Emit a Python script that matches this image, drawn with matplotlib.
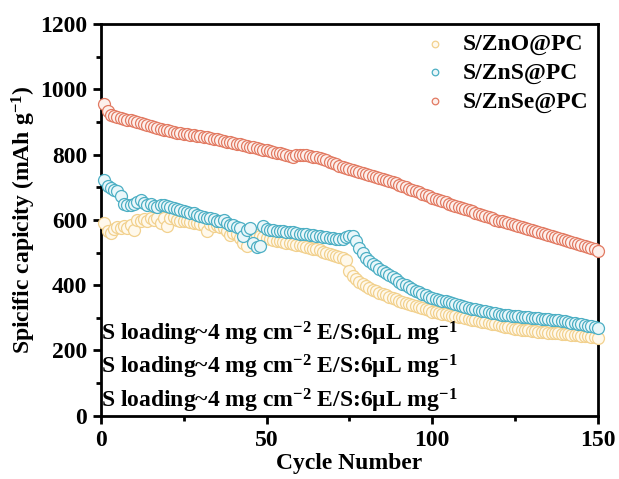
import matplotlib
matplotlib.use("Agg")
import matplotlib.pyplot as plt
from matplotlib.ticker import MultipleLocator

plt.rcParams['font.family'] = ['Liberation Serif', 'DejaVu Serif']
plt.rcParams['font.weight'] = 'bold'
plt.rcParams['mathtext.fontset'] = 'custom'
plt.rcParams['mathtext.rm'] = 'Liberation Serif:bold'
plt.rcParams['mathtext.bf'] = 'Liberation Serif:bold'
plt.rcParams['mathtext.it'] = 'Liberation Serif:bold:italic'
plt.rcParams['mathtext.default'] = 'bf'

cycles = list(range(1, 151))

zno = [590, 565, 560, 572, 578, 575, 580, 575, 585, 570,
       600, 595, 602, 598, 606, 600, 605, 590, 606, 580,
       605, 610, 600, 595, 598, 595, 592, 590, 590, 588,
       585, 565, 586, 580, 584, 578, 575, 565, 555, 560,
       558, 545, 530, 520, 550, 545, 555, 552, 548, 545,
       540, 538, 536, 534, 532, 530, 528, 526, 524, 522,
       519, 517, 514, 512, 510, 508, 502, 498, 495, 492,
       488, 485, 482, 478, 442, 428, 420, 411, 404, 397,
       391, 386, 381, 377, 373, 369, 365, 361, 357, 353,
       349, 345, 341, 338, 335, 332, 329, 326, 323, 319,
       317, 315, 313, 311, 309, 307, 305, 303, 301, 298,
       296, 294, 292, 290, 288, 286, 284, 282, 280, 277,
       275, 273, 271, 269, 267, 265, 264, 263, 262, 260,
       259, 258, 257, 256, 255, 254, 253, 252, 251, 250,
       249, 248, 247, 246, 245, 244, 243, 241, 240, 238]

zns = [723, 703, 697, 692, 688, 672, 650, 645, 647, 650,
       655, 662, 652, 645, 648, 642, 640, 645, 647, 643,
       640, 637, 634, 631, 628, 625, 622, 620, 616, 612,
       608, 606, 605, 602, 598, 595, 600, 590, 585, 585,
       578, 575, 550, 570, 575, 530, 517, 520, 580, 572,
       570, 568, 566, 565, 565, 563, 562, 562, 560, 558,
       556, 556, 555, 553, 552, 550, 549, 547, 545, 543,
       541, 540, 542, 546, 550, 552, 535, 514, 498, 484,
       475, 466, 458, 450, 443, 437, 430, 424, 418, 411,
       405, 399, 393, 388, 383, 378, 373, 369, 365, 361,
       358, 355, 352, 350, 347, 344, 341, 338, 335, 332,
       330, 328, 326, 324, 322, 320, 318, 316, 314, 312,
       310, 309, 308, 307, 306, 305, 304, 303, 302, 300,
       299, 298, 297, 296, 295, 294, 293, 292, 291, 289,
       287, 285, 284, 282, 280, 278, 276, 274, 272, 268]

znse = [955, 932, 922, 918, 915, 912, 910, 907, 905, 903,
        900, 897, 894, 891, 888, 885, 882, 879, 876, 874,
        871, 869, 867, 865, 864, 862, 861, 859, 858, 856,
        855, 853, 851, 849, 847, 844, 842, 839, 837, 835,
        833, 831, 829, 827, 824, 822, 820, 817, 815, 813,
        810, 808, 806, 804, 801, 798, 795, 792, 798, 800,
        799, 798, 796, 794, 791, 788, 785, 782, 778, 774,
        770, 766, 762, 759, 756, 753, 750, 747, 744, 741,
        738, 735, 732, 729, 726, 723, 720, 716, 712, 708,
        704, 700, 696, 692, 688, 684, 680, 676, 672, 668,
        664, 660, 657, 654, 650, 647, 643, 640, 636, 633,
        629, 626, 622, 619, 615, 612, 608, 605, 601, 598,
        595, 592, 589, 586, 583, 580, 577, 574, 571, 568,
        565, 562, 559, 556, 553, 550, 547, 544, 541, 538,
        535, 532, 529, 526, 523, 520, 517, 514, 511, 506]

labels = ['S/ZnO@PC', 'S/ZnS@PC', 'S/ZnSe@PC']
edge_colors = ['#F2D18E', '#4DAFC4', '#E27A62']
face_colors = ['#FFF9EC', '#EAF7FA', '#FDF0EC']

note = 'S loading~4 mg cm$^{-2}$ E/S:6μL mg$^{-1}$'
note_y = [0.193, 0.108, 0.022]

fig = plt.figure(figsize=(6.19, 4.79), dpi=100)
ax = fig.add_axes([0.163, 0.132, 0.803, 0.818])

for data, lab, ec, fc in zip([zno, zns, znse], labels, edge_colors, face_colors):
    ax.scatter(cycles, data, s=74, facecolors=fc, edgecolors=ec, linewidths=0.9,
               label=lab, zorder=3, clip_on=False)

ax.set_xlim(0, 150)
ax.set_ylim(0, 1200)
ax.xaxis.set_major_locator(MultipleLocator(50))
ax.xaxis.set_minor_locator(MultipleLocator(25))
ax.yaxis.set_major_locator(MultipleLocator(200))
ax.yaxis.set_minor_locator(MultipleLocator(100))
ax.tick_params(which='both', direction='out', top=False, right=False, width=2)
ax.tick_params(which='major', length=6, labelsize=17, pad=4)
ax.tick_params(which='minor', length=3.5)
for sp in ax.spines.values():
    sp.set_linewidth(2)
for t in ax.get_xticklabels() + ax.get_yticklabels():
    t.set_fontweight('bold')

ax.set_xlabel('Cycle Number', fontsize=17, fontweight='bold', labelpad=2)
ax.set_ylabel('Spicific capicity (mAh g$^{-1}$)', fontsize=17, fontweight='bold', labelpad=1)

for frac in note_y:
    ax.text(0.0, frac, note, transform=ax.transAxes, fontsize=17, fontweight='bold',
            ha='left', va='baseline')

leg = ax.legend(loc='upper right', frameon=False, fontsize=17, markerscale=0.55,
                handlelength=1.0, handletextpad=0.7, labelspacing=0.3,
                borderaxespad=0.0, bbox_to_anchor=(1.0, 1.0))
for t in leg.get_texts():
    t.set_fontweight('bold')

fig.savefig('out.png', dpi=100)
